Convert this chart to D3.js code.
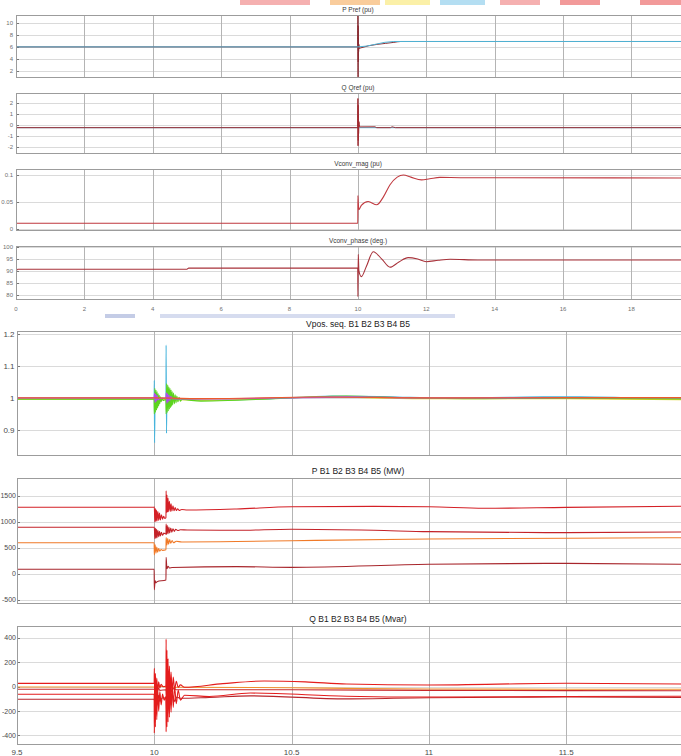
<!DOCTYPE html>
<html lang="en">
<head>
<meta charset="UTF-8">
<title>Converter and bus response to a fault</title>
<style>
  body { margin: 0; background: #fff; }
  svg { display: block; font-family: "Liberation Sans", Arial, sans-serif; }
  .grid-h { stroke: #dadada; stroke-width: 1; }
  .grid-v { stroke: #b4b4b4; stroke-width: 1; }
  .frame { fill: none; stroke: #9c9c9c; stroke-width: 1; }
  .ytick { stroke: #777; stroke-width: 1; }
  .lbl-top { font-size: 6px; fill: #707070; }
  .lbl-bot { font-size: 8px; fill: #4a4a4a; }
  .lbl-narrow { font-size: 7px; }
  .title-top { font-size: 6.5px; fill: #3a3a3a; }
  .title-bot { font-size: 8.5px; fill: #222; }
  .trace { fill: none; stroke-linejoin: round; }
</style>
</head>
<body>
<svg width="681" height="756"></svg>
<script src="https://d3js.org/d3.v7.min.js"></script>
<script>
// ---- top scope (0 .. ~19.5 s) ----
const topXTicks = [0, 2, 4, 6, 8, 10, 12, 14, 16, 18];
const pTicks = [2, 4, 6, 8, 10];
const qTicks = [-2, -1, 0, 1, 2];
const magTicks = [0, 0.05, 0.1];
const phaseTicks = [80, 85, 90, 95, 100];

const pRef = [[0,6],[10,6],[11.05,6.9],[19.5,6.9]];
const pMeas = [[0,6],[9.995,6],[10,11.4],[10.004,1.0],[10.008,9.5],[10.012,3.5],[10.016,7.5],[10.02,5.2],[10.03,6.4],[10.04,5.7],[10.06,5.8],[11.05,6.75],[11.25,6.9],[19.5,6.9]];
const qRef = [[0,-0.25],[19.5,-0.25]];
const qMeas = [[0,0.15],[0.03,-0.25],[9.995,-0.25],[10,2.4],[10.004,-1.9],[10.008,1.8],[10.012,-1.4],[10.016,0.9],[10.02,-0.8],[10.03,0.3],[10.05,-0.18],[10.5,-0.17],[10.55,-0.25],[10.95,-0.25],[11,-0.17],[11.1,-0.25],[19.5,-0.25]];
const vMag = [[0,0.011],[9.998,0.011],[10,0.062],[10.01,0.05],[10.03,0.036],[10.1,0.044],[10.3,0.051],[10.55,0.045],[10.75,0.06],[10.94,0.082],[11.15,0.096],[11.33,0.1],[11.55,0.096],[11.86,0.091],[12.1,0.093],[12.4,0.0955],[13,0.095],[19.5,0.0945]];
const vPhase = [[0,89.6],[0.05,90.7],[5,90.7],[5.05,91.2],[9.995,91.2],[10,79.2],[10.01,97],[10.03,90],[10.1,87.6],[10.25,92],[10.45,98.1],[10.7,95],[10.94,91.6],[11.2,93.8],[11.47,95.6],[11.75,95],[12,93.9],[12.35,94.5],[12.7,94.9],[13.5,94.6],[19.5,94.6]];

// ---- bottom scope (9.5 .. ~11.9 s) ----
const botXTicks = [9.5, 10, 10.5, 11, 11.5];
const vTicks = [0.9, 1, 1.1, 1.2];
const pBusTicks = [-500, 0, 500, 1000, 1500];
const qBusTicks = [-400, -200, 0, 200, 400];

const vB1 = [[9.5,0.999],[9.9995,0.999],[10,1.055],[10.001,0.86],[10.003,1.02],[10.005,0.975],[10.008,1.006],[10.012,0.996],[10.02,0.999],[10.0425,0.999],[10.043,1.165],[10.0445,0.89],[10.046,1.03],[10.049,0.98],[10.053,1.008],[10.06,0.997],[10.1,0.996],[10.2,0.993],[10.4,0.997],[10.65,1.006],[10.85,1.004],[11.05,1.0],[11.35,1.003],[11.55,1.004],[11.75,1.001],[11.92,0.999]];
const vB2 = [[9.5,0.996],[9.999,0.996],[10,0.95],[10.002,1.03],[10.004,0.955],[10.006,1.025],[10.008,0.962],[10.01,1.02],[10.012,0.968],[10.014,1.014],[10.016,0.975],[10.018,1.008],[10.02,0.982],[10.022,1.004],[10.025,0.988],[10.028,1.0],[10.032,0.992],[10.042,0.995],[10.043,0.95],[10.045,1.045],[10.047,0.955],[10.049,1.04],[10.051,0.96],[10.053,1.035],[10.055,0.965],[10.057,1.03],[10.059,0.97],[10.061,1.025],[10.063,0.974],[10.065,1.02],[10.067,0.978],[10.07,1.015],[10.073,0.982],[10.076,1.01],[10.079,0.985],[10.082,1.006],[10.086,0.988],[10.09,1.002],[10.095,0.99],[10.1,0.995],[10.17,0.99],[10.3,0.993],[10.5,1.0],[10.7,1.006],[10.9,1.001],[11.2,0.998],[11.5,0.999],[11.92,0.997]];
const vB3 = [[9.5,1.0],[9.9995,1.0],[10.001,1.014],[10.003,0.986],[10.005,1.011],[10.007,0.99],[10.01,1.007],[10.013,0.994],[10.02,0.999],[10.0425,0.999],[10.044,1.016],[10.046,0.984],[10.048,1.013],[10.05,0.988],[10.053,1.009],[10.056,0.992],[10.06,1.004],[10.066,0.998],[10.1,0.997],[10.2,0.997],[10.45,1.0],[10.7,1.003],[11.0,1.0],[11.5,1.001],[11.92,1.001]];
const vB4 = [[9.5,0.996],[10,0.996],[10.2,0.993],[10.6,1.003],[11,0.998],[11.5,0.998],[11.92,0.995]];
const vB5 = [[9.5,1.0],[10,1.0],[10.2,0.998],[10.6,1.003],[11,1.0],[11.5,1.001],[11.92,1.001]];

const pB1 = [[9.5,1283],[9.9995,1283],[10,1290],[10.002,1000],[10.004,1260],[10.006,1010],[10.008,1230],[10.01,1020],[10.013,1200],[10.016,1030],[10.019,1170],[10.022,1040],[10.026,1140],[10.03,1055],[10.034,1110],[10.038,1070],[10.0425,1085],[10.043,1600],[10.0445,1180],[10.046,1520],[10.048,1190],[10.05,1460],[10.052,1200],[10.055,1400],[10.058,1205],[10.061,1350],[10.064,1210],[10.068,1310],[10.072,1215],[10.076,1280],[10.08,1220],[10.085,1255],[10.09,1222],[10.1,1240],[10.12,1230],[10.3,1250],[10.5,1294],[10.8,1300],[11,1294],[11.2,1263],[11.5,1282],[11.92,1304]];
const pB2 = [[9.5,898],[9.9995,898],[10,900],[10.002,680],[10.004,880],[10.006,690],[10.008,860],[10.01,700],[10.013,840],[10.016,715],[10.019,820],[10.022,730],[10.026,800],[10.03,745],[10.035,785],[10.0425,768],[10.043,960],[10.045,760],[10.047,930],[10.05,775],[10.053,905],[10.056,790],[10.06,885],[10.064,805],[10.068,870],[10.073,820],[10.078,860],[10.085,835],[10.095,850],[10.12,845],[10.3,840],[10.5,860],[10.8,840],[11,814],[11.5,795],[11.92,808]];
const pB3 = [[9.5,602],[9.9995,602],[10,365],[10.003,560],[10.006,400],[10.009,520],[10.012,420],[10.016,490],[10.02,440],[10.025,470],[10.03,455],[10.0425,465],[10.043,700],[10.046,560],[10.049,680],[10.052,575],[10.056,660],[10.06,590],[10.065,645],[10.07,600],[10.08,630],[10.1,615],[10.3,625],[10.5,640],[11,673],[11.5,686],[11.92,698]];
const pB4 = [[9.5,90],[9.9995,90],[10,-300],[10.003,-130],[10.006,-170],[10.01,-148],[10.0425,-115],[10.043,320],[10.046,100],[10.05,150],[10.055,115],[10.065,125],[10.3,141],[10.5,128],[11,186],[11.5,205],[11.92,186]];

const qB1 = [[9.5,27],[9.9995,27],[10,150],[10.002,-120],[10.004,110],[10.006,-80],[10.009,70],[10.012,-40],[10.016,40],[10.02,-10],[10.025,20],[10.032,0],[10.0425,5],[10.043,390],[10.0445,-250],[10.046,300],[10.048,-180],[10.05,230],[10.052,-130],[10.055,170],[10.058,-90],[10.061,120],[10.065,-55],[10.069,80],[10.074,-25],[10.08,45],[10.087,-5],[10.095,15],[10.11,-5],[10.25,25],[10.4,47],[10.55,40],[10.7,22],[11,14],[11.5,28],[11.92,22]];
const qB2 = [[9.5,-3],[10,-3],[10.003,-40],[10.006,20],[10.01,-20],[10.015,5],[10.043,-3],[10.045,-50],[10.048,30],[10.052,-30],[10.057,10],[10.065,-10],[10.08,-5],[10.5,-8],[10.7,-14],[11,-19],[11.92,-21]];
const qB3 = [[9.5,-21],[10,-21],[10.003,-70],[10.006,10],[10.01,-45],[10.015,-10],[10.02,-30],[10.043,-25],[10.045,-90],[10.048,20],[10.052,-60],[10.057,0],[10.063,-40],[10.07,-15],[10.08,-25],[10.5,-25],[11,-30],[11.92,-33]];
const qB4 = [[9.5,-62],[9.9995,-62],[10,-380],[10.002,100],[10.004,-330],[10.006,50],[10.009,-270],[10.012,0],[10.016,-200],[10.02,-40],[10.025,-150],[10.03,-60],[10.036,-110],[10.0425,-80],[10.043,-370],[10.0445,250],[10.046,-330],[10.048,180],[10.05,-290],[10.052,120],[10.055,-250],[10.058,70],[10.061,-210],[10.065,30],[10.069,-170],[10.074,0],[10.08,-140],[10.087,-30],[10.095,-110],[10.11,-70],[10.2,-80],[10.35,-52],[10.7,-78],[11,-85],[11.5,-80],[11.92,-78]];
const qB5 = [[9.5,-103],[10,-103],[10.003,-200],[10.006,-40],[10.01,-150],[10.015,-70],[10.02,-120],[10.03,-90],[10.043,-95],[10.045,-220],[10.048,0],[10.052,-180],[10.056,-40],[10.061,-150],[10.067,-70],[10.074,-120],[10.082,-85],[10.095,-95],[10.2,-88],[10.35,-75],[10.7,-100],[11,-90],[11.5,-85],[11.92,-88]];

const svg = d3.select('svg');

// faint page decorations around the screenshots
const deco = [
  [240, 0, 70, 5, '#f5b0b0'], [330, 0, 50, 5, '#f9cc9c'], [385, 0, 45, 5, '#fbf0a8'],
  [440, 0, 45, 5, '#b4def2'], [500, 0, 40, 5, '#f5b0b0'], [560, 0, 40, 5, '#f29a9a'],
  [640, 0, 41, 5, '#f29a9a'], [105, 314, 30, 4, '#c4cce6'], [160, 314, 295, 4, '#d6dcef']
];
svg.selectAll('rect.deco').data(deco).join('rect').attr('class', 'deco')
  .attr('x', d => d[0]).attr('y', d => d[1]).attr('width', d => d[2]).attr('height', d => d[3])
  .attr('fill', d => d[4]);

const topX = d3.scaleLinear().domain([0, 19.45]).range([16, 681]);
const botX = d3.scaleLinear().domain([9.5, 11.918]).range([17, 681]);

const panels = [
  { x: topX, xt: topXTicks, top: 15, bottom: 77, dom: [1.0, 11.3], ticks: pTicks, title: 'P Pref (pu)', ty: 12, small: true,
    series: [[pMeas, '#8a2a30', 1], [pRef, '#4fb3d4', 1]] },
  { x: topX, xt: topXTicks, top: 93, bottom: 153, dom: [-2.55, 2.9], ticks: qTicks, title: 'Q Qref (pu)', ty: 90, small: true,
    series: [[qRef, '#4fb3d4', 1], [qMeas, '#a02a30', 1]] },
  { x: topX, xt: topXTicks, top: 169, bottom: 230, dom: [-0.0015, 0.111], ticks: magTicks, title: 'Vconv_mag (pu)', ty: 166, small: true,
    series: [[vMag, '#c0393f', 1.1]] },
  { x: topX, xt: topXTicks, top: 246, bottom: 299, dom: [78.2, 100.5], ticks: phaseTicks, title: 'Vconv_phase (deg.)', ty: 243, small: true,
    series: [[vPhase, '#a8323a', 1.1]], xlabels: 311 },
  { x: botX, xt: botXTicks, top: 331, bottom: 455, dom: [0.822, 1.209], ticks: vTicks, title: 'Vpos. seq. B1 B2 B3 B4 B5', ty: 327, small: false,
    series: [[vB1, '#46b4dc', 1.1], [vB4, '#e2d426', 1.2], [vB2, '#5cd41e', 1.1], [vB3, '#b04cf0', 1.3], [vB5, '#ee5a2c', 1.2]] },
  { x: botX, xt: botXTicks, top: 478, bottom: 603, dom: [-558, 1846], ticks: pBusTicks, title: 'P B1 B2 B3 B4 B5 (MW)', ty: 474, small: false, narrow: true,
    series: [[pB3, '#f07a28', 1.1], [pB1, '#d42026', 1.1], [pB2, '#c42228', 1.1], [pB4, '#a8262c', 1.1]] },
  { x: botX, xt: botXTicks, top: 626, bottom: 744, dom: [-470, 498], ticks: qBusTicks, title: 'Q B1 B2 B3 B4 B5 (Mvar)', ty: 622, small: false, narrow: true,
    series: [[qB2, '#f0902c', 1.1], [qB3, '#c8282c', 1.1], [qB5, '#b8262c', 1.1], [qB1, '#e41c1c', 1.1], [qB4, '#e41c1c', 1.1]], xlabels: 755 }
];

panels.forEach((p, i) => {
  const x = p.x;
  const y = d3.scaleLinear().domain(p.dom).range([p.bottom, p.top]);
  const [x0, x1] = x.range();
  const g = svg.append('g');

  g.append('clipPath').attr('id', 'clip' + i)
    .append('rect').attr('x', x0).attr('y', p.top).attr('width', x1 - x0).attr('height', p.bottom - p.top);

  g.selectAll('line.grid-h').data(p.ticks).join('line').attr('class', 'grid-h')
    .attr('x1', x0).attr('x2', x1).attr('y1', d => Math.round(y(d)) + 0.5).attr('y2', d => Math.round(y(d)) + 0.5);
  g.selectAll('line.grid-v').data(p.xt.slice(1)).join('line').attr('class', 'grid-v')
    .attr('y1', p.top).attr('y2', p.bottom).attr('x1', d => Math.round(x(d)) + 0.5).attr('x2', d => Math.round(x(d)) + 0.5);
  g.selectAll('line.ytick').data(p.ticks).join('line').attr('class', 'ytick')
    .attr('x1', x0).attr('x2', x0 + 3).attr('y1', d => Math.round(y(d)) + 0.5).attr('y2', d => Math.round(y(d)) + 0.5);

  const line = d3.line().curve(d3.curveMonotoneX).x(d => x(d[0])).y(d => y(d[1]));
  const traces = g.append('g').attr('clip-path', `url(#clip${i})`);
  p.series.forEach(s => {
    traces.append('path').attr('class', 'trace').attr('d', line(s[0]))
      .attr('stroke', s[1]).attr('stroke-width', s[2]);
  });

  g.append('rect').attr('class', 'frame')
    .attr('x', x0 + 0.5).attr('y', p.top + 0.5).attr('width', x1 - x0 + 2).attr('height', p.bottom - p.top);

  const lblClass = p.small ? 'lbl-top' : 'lbl-bot';
  g.selectAll('text.ylab').data(p.ticks).join('text').attr('class', 'ylab ' + lblClass + (p.narrow ? ' lbl-narrow' : ''))
    .attr('x', p.small ? 13 : (p.narrow ? 16 : 14.5)).attr('y', d => y(d)).attr('dy', '0.35em')
    .attr('text-anchor', 'end').text(d => d);

  g.append('text').attr('class', p.small ? 'title-top' : 'title-bot')
    .attr('x', 358).attr('y', p.ty).attr('text-anchor', 'middle').text(p.title);

  if (p.xlabels) {
    g.selectAll('text.xlab').data(p.xt).join('text').attr('class', 'xlab ' + lblClass)
      .attr('x', d => x(d)).attr('y', p.xlabels).attr('text-anchor', 'middle').text(d => d);
  }
});
</script>
</body>
</html>
